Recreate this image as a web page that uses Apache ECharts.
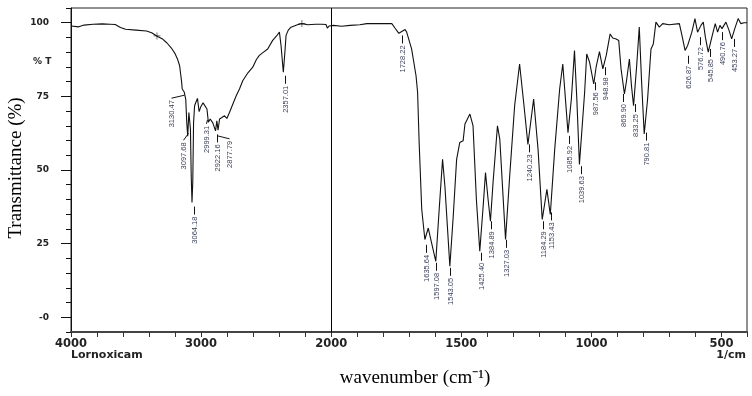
<!DOCTYPE html>
<html><head><meta charset="utf-8">
<script src="https://cdn.jsdelivr.net/npm/echarts@6/dist/echarts.min.js"></script>
<style>html,body{margin:0;padding:0;background:#fff}#c{width:752px;height:396px}</style>
</head><body><div id="c"></div>
<script>
// ---- data (wavenumber in cm-1, transmittance in %) ----
const wavenumber = [
4000,3985,3940,3900,3830,3760,3700,3660,3620,3580,3500,3420,3380,3341,3300,3264,3230,3200,3180,3165,
3150,3145,3130,3118,3110,3103,3098,3094,3088,3082,3076,3070,3064,3058,3050,3040,3028,3015,3002,2985,
2972,2955,2944,2930,2910,2889,2879,2870,2858,2840,2820,2802,2782,2755,2730,2705,2680,2640,2603,2575,
2552,2520,2488,2450,2420,2398,2385,2368,2356,2347,2330,2309,2260,2225,2180,2120,2070,2040,2030,2015,2000,
1991,1960,1927,1890,1863,1812,1767,1755,1740,1735,1716,1710,1691,1674,1668,1662,1652,1640,1627,1620,
1614,1598,1585,1572,1563,1544,1531,1518,1506,1493,1486,1467,1455,1442,1429,1416,1407,1397,1388,1378,
1361,1352,1330,1314,1295,1276,1259,1244,1222,1205,1189,1171,1158,1141,1122,1110,1090,1077,1065,1056,
1046,1026,1018,1007,991,982,969,956,943,928,918,905,895,886,873,865,854,846,838,826,
816,807,797,784,771,762,752,739,726,701,662,652,640,630,614,602,592,579,570,562,
551,534,524,515,506,498,483,471,461,449,436,426,413,402];
const transmittance = [
98.9,98.6,98.6,99.2,99.5,99.6,99.5,99.4,98.4,97.8,97.5,97.2,96.6,95.5,94.6,93.2,91.5,89.5,87.5,85.4,
80,77.5,76.5,74,66,61.5,62,69.5,69,64,48,39,46,66,71.8,73,74.3,69.8,71.5,72.8,
72.6,70.7,66.2,67.3,66,63.3,66.7,63.5,67.3,67.8,68.4,67.5,69.5,72.5,75.2,77.5,80.3,83,84.9,87.5,
88.9,90,91.1,94,95.5,96.8,92,83.2,90,95.7,97.5,98.5,99.3,99.7,99.3,99.5,99.5,99.4,98.2,98.9,98.9,
99.1,98.8,99.1,99.3,99.7,99.7,99.7,98.2,96.4,96.2,97.7,96.8,91.1,82,76.4,59.3,36.6,26.4,30.3,29.8,
25.2,19,36.6,53.6,44.5,17.3,34.3,53.6,59.3,59.9,65.6,69,65.1,40,22.4,37.7,49.1,40,32.6,45.7,
65,60.4,26.4,48,71.8,86,71.8,58.7,74.1,57,33.2,43.4,34.9,57,77.5,86,62.7,74.1,90.6,74.1,
51.9,76.4,89.4,86.6,79.2,84.9,90.2,84.3,88.9,96.2,94.8,94.5,94,84.3,75.8,80.3,87.7,78.6,71.8,85.4,
98.5,79.8,62.2,74.1,91.1,92.8,100.2,98.5,99.7,99.3,99.7,95.7,90.6,92.3,96.8,101.4,96.8,99.1,100.2,95.1,
90,96.2,99.7,96.8,99.1,98,100.2,97.4,94.5,98,101.4,99.7,100,100];

const peakLabels = ['3130.47','3097.68','3064.18','2999.31','2922.16','2877.79','2357.01','1728.22',
'1635.64','1597.08','1543.05','1425.40','1384.89','1327.03','1240.23','1184.29','1153.43','1085.92',
'1039.63','987.56','948.98','869.90','833.25','790.81','626.87','576.72','545.85','490.76','453.27'];
// transmittance level where each peak label text begins (its top end)
const peakLabelTop = [73.7,59.4,34.2,65.0,58.7,59.9,78.6,92.3,21.2,15.1,13.4,18.5,29.2,22.9,55.3,29.2,
32.2,58.2,47.9,76.4,81.5,72.4,69.0,59.3,85.4,91.7,87.7,93.4,91.1];

const markerWavenumber = [3339, 2225];
const markerTransmittance = [95.5, 99.7];

const xTickWavenumbers = [4000,3000,2000,1500,1000,500];
const yTickValues = [0,25,50,75,100];

// ---- styling-only offsets (px) ----
const labelShift = {'3130.47':-13,'3097.68':-5.5,'3064.18':1,'2999.31':5,'2922.16':6,'2877.79':12,
  '869.90':-2,'576.72':-1.5,'490.76':-1.6};
const leaderFrom = {'3130.47':[13,-5],'3097.68':[5,-9],'2877.79':[-12,-5],'2999.31':[1,-6]};

// split wavenumber scale: 4000-2000 compressed 2x, 2000-400 expanded
function toU(w){ return w >= 2000 ? (4000 - w) / 2 : 1000 + (2000 - w); }
function fromU(u){ return u <= 1000 ? 4000 - 2 * u : 3000 - u; }

const chart = echarts.init(document.getElementById('c'), null, {renderer:'canvas'});
const lineData = wavenumber.map((w,i)=>[toU(w), transmittance[i]]);
const labelData = peakLabels.map((s,i)=>[toU(parseFloat(s)), peakLabelTop[i], i]);
const markerData = markerWavenumber.map((w,i)=>[toU(w), markerTransmittance[i]]);

const axisFont = '"DejaVu Sans", sans-serif';
chart.setOption({
  animation:false,
  backgroundColor:'#fff',
  grid:{left:71, right:5, top:8, bottom:64, show:true, borderColor:'#222', borderWidth:1, backgroundColor:'transparent'},
  xAxis:{
    type:'value', min:0, max:2598, interval:100,
    axisLine:{show:true, onZero:false, lineStyle:{color:'#444', width:2}},
    axisTick:{show:true, length:5, inside:false, lineStyle:{color:'#333'}},
    axisLabel:{customValues:xTickWavenumbers.map(toU), formatter:v=>String(Math.round(fromU(v))),
      margin:6, color:'#222', fontFamily:axisFont, fontWeight:'bold', fontSize:11.5},
    splitLine:{show:false}
  },
  yAxis:[{
    type:'value', min:-5, max:105, position:'left',
    axisLine:{show:true, onZero:false, lineStyle:{color:'#111', width:1}},
    axisTick:{show:true, customValues:yTickValues, length:10, lineStyle:{color:'#111'}},
    axisLabel:{customValues:yTickValues, formatter:v=>(v===0?'-0':String(v)), margin:22,
      color:'#222', fontFamily:axisFont, fontWeight:'bold', fontSize:9},
    splitLine:{show:false}
  },{
    type:'value', min:-5, max:105, interval:5, position:'left',
    axisLine:{show:false},
    axisTick:{show:true, length:5, lineStyle:{color:'#111'}},
    axisLabel:{show:false}, splitLine:{show:false}
  }],
  graphic:[
    {type:'text', x:16, y:168, rotation:Math.PI/2, style:{text:'Transmittance (%)', font:'19px "Liberation Serif", serif', fill:'#000', align:'center', verticalAlign:'middle'}},
    {type:'text', x:415, y:378, style:{text:'wavenumber (cm⁻¹)', font:'19px "Liberation Serif", serif', fill:'#000', align:'center', verticalAlign:'middle'}},
    {type:'text', x:71, y:355, style:{text:'Lornoxicam', font:'bold 11px "DejaVu Sans", sans-serif', fill:'#222', align:'left', verticalAlign:'middle'}},
    {type:'text', x:746, y:355, style:{text:'1/cm', font:'bold 11px "DejaVu Sans", sans-serif', fill:'#222', align:'right', verticalAlign:'middle'}},
    {type:'text', x:33, y:62, style:{text:'% T', font:'bold 9px "DejaVu Sans", sans-serif', fill:'#222', align:'left', verticalAlign:'middle'}}
  ],
  series:[
    {type:'line', data:lineData, showSymbol:false, silent:true,
     lineStyle:{color:'#111', width:1.1},
     markLine:{silent:true, symbol:['none','none'], label:{show:false},
       lineStyle:{color:'#000', width:1, type:'solid'}, data:[{xAxis:1000}]}},
    {type:'scatter', data:markerData, symbol:'path://M4,0h1v4h4v1h-4v4h-1v-4h-4v-1h4z', symbolSize:7,
     itemStyle:{color:'#222'}, silent:true},
    {type:'custom', data:labelData, clip:false, silent:true, encode:{x:0, y:1},
     renderItem:function(params, api){
       const i = api.value(2);
       const name = peakLabels[i];
       const p = api.coord([api.value(0), api.value(1)]);
       const x = Math.round(p[0] + (labelShift[name]||0)) + 0.5;
       const y = p[1];
       const lf = leaderFrom[name] || [0,-10];
       return {type:'group', children:[
         {type:'line', shape:{x1:x+lf[0], y1:y+lf[1], x2:x, y2:y-2}, style:{stroke:'#111', lineWidth:1}},
         {type:'text', x:x, y:y, rotation:Math.PI/2,
          style:{text:name, align:'right', verticalAlign:'middle', font:'7.5px "Liberation Sans", sans-serif', fill:'#3a3f58'}}
       ]};
     }}
  ]
});
</script></body></html>
